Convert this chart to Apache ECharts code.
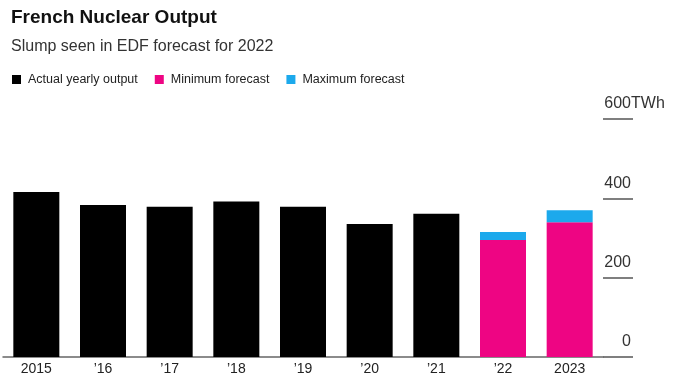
<!DOCTYPE html>
<html>
<head>
<meta charset="utf-8">
<script src="https://cdn.jsdelivr.net/npm/echarts@6/dist/echarts.min.js"></script>
<style>
html,body{margin:0;padding:0;background:#fff;}
#c{width:673px;height:380px;}
</style>
</head>
<body>
<div id="c"></div>
<script>
const categories = ['2015', '\u201916', '\u201917', '\u201918', '\u201919', '\u201920', '\u201921', '\u201922', '2023'];
const actualOutput = [416, 383, 379, 392, 379, 335, 361, null, null];
const minForecast = [null, null, null, null, null, null, null, 295, 340];
const maxForecast = [null, null, null, null, null, null, null, 315, 370];
const yTicks = [0, 200, 400, 600];

const maxDelta = maxForecast.map((v, i) => v == null ? null : v - minForecast[i]);
const FONT = '"Liberation Sans", Arial, Helvetica, sans-serif';

const chart = echarts.init(document.getElementById('c'), null, {renderer: 'canvas'});
chart.setOption({
  backgroundColor: '#fff',
  animation: false,
  title: [
    {text: 'French Nuclear Output', left: 11, top: 7, padding: 0,
     textStyle: {fontFamily: FONT, fontSize: 19, fontWeight: 'bold', color: '#111', lineHeight: 22}},
    {text: 'Slump seen in EDF forecast for 2022', left: 11, top: 36, padding: 0,
     textStyle: {fontFamily: FONT, fontSize: 16, fontWeight: 'normal', color: '#333', lineHeight: 22}}
  ],
  legend: {
    left: 12, top: 73, padding: 0, itemWidth: 9, itemHeight: 9, itemGap: 17,
    icon: 'rect',
    data: ['Actual yearly output', 'Minimum forecast', 'Maximum forecast'],
    textStyle: {fontFamily: FONT, fontSize: 12.5, color: '#222', padding: [0, 0, 0, 2]}
  },
  grid: {left: 3, right: 70, top: 119, bottom: 23, containLabel: false},
  xAxis: {
    type: 'category', data: categories,
    axisLine: {lineStyle: {color: '#666', width: 1.5}},
    axisTick: {show: false},
    axisLabel: {fontFamily: FONT, fontSize: 14, color: '#222', margin: 5}
  },
  yAxis: [
    {
      type: 'value', position: 'right', min: 0, max: 600, interval: 200,
      axisLine: {show: false},
      splitLine: {show: false},
      axisTick: {show: true, length: 30, lineStyle: {color: '#555', width: 1.5}},
      axisLabel: {
        fontFamily: FONT, fontSize: 16, color: '#333', margin: 28, align: 'right',
        verticalAlign: 'bottom', padding: [0, 0, 7, 0],
        formatter: v => yTicks.includes(v) ? String(v) : ''
      }
    },
    {
      type: 'value', position: 'right', min: 0, max: 600, interval: 200,
      axisLine: {show: false}, splitLine: {show: false}, axisTick: {show: false},
      axisLabel: {
        fontFamily: FONT, fontSize: 16, color: '#333', margin: 28, align: 'left',
        verticalAlign: 'bottom', padding: [0, 0, 7, 0],
        formatter: v => v === yTicks[yTicks.length - 1] ? 'TWh' : ''
      }
    }
  ],
  series: [
    {name: 'Actual yearly output', type: 'bar', stack: 'a', barWidth: 46,
     data: actualOutput, itemStyle: {color: '#000'}},
    {name: 'Minimum forecast', type: 'bar', stack: 'a', barWidth: 46,
     data: minForecast, itemStyle: {color: '#ee0583'}},
    {name: 'Maximum forecast', type: 'bar', stack: 'a', barWidth: 46,
     data: maxDelta, itemStyle: {color: '#1ca9ec'}}
  ]
});
</script>
</body>
</html>
